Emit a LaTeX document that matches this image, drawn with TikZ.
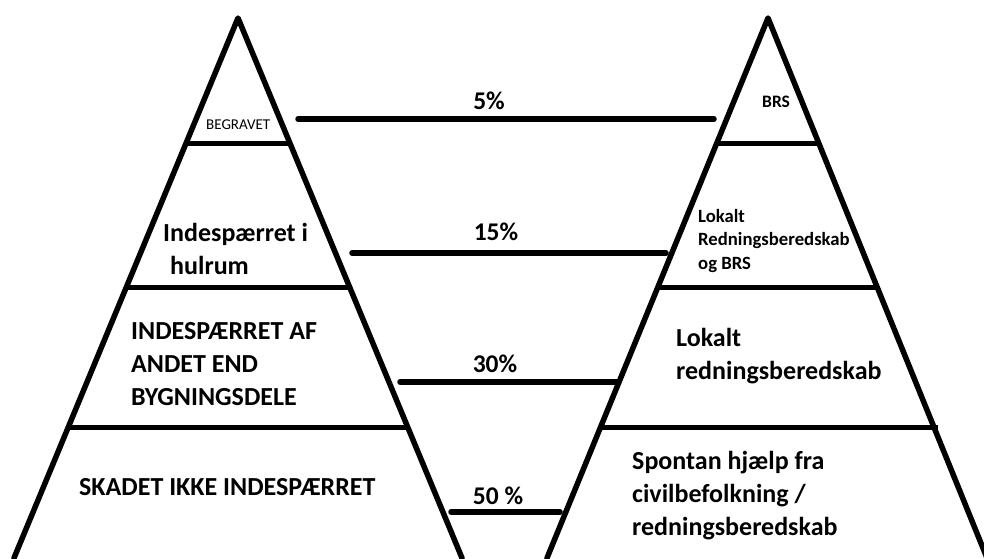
\documentclass[tikz,border=0pt]{standalone}
\usepackage{fontspec}
\setmainfont{Carlito}
\begin{document}
\begin{tikzpicture}[x=1pt,y=-1pt,
  edge/.style={line width=5.5pt,line join=round,line cap=round},
  bar/.style={line width=5pt},
  link/.style={line width=5.5pt,line cap=round},
  big/.style={inner sep=0pt,anchor=west,align=left,font=\bfseries\fontsize{26}{33}\selectfont},
  pct/.style={inner sep=0pt,font=\bfseries\fontsize{25.5}{28}\selectfont},
  small/.style={inner sep=0pt,anchor=west,align=left,font=\bfseries\fontsize{18.7}{23.5}\selectfont}]
\useasboundingbox (0,0) rectangle (984,558);
\fill[white] (0,0) rectangle (984,558);

% left pyramid
\coordinate (LA) at (238,18);
\coordinate (LL) at (14,558);
\coordinate (LR) at (462,558);
\draw[edge] (LL) -- (LA) -- (LR);
\draw[bar] (186,143) -- (290,143);
\draw[bar] (126,287) -- (350,287);
\draw[bar] (68,427) -- (408,427);

% right pyramid
\coordinate (RA) at (768,18);
\coordinate (RL) at (547,558);
\coordinate (RR) at (987,558);
\draw[edge] (RL) -- (RA) -- (RR);
\draw[bar] (717,143) -- (820,143);
\draw[bar] (660,287) -- (879,287);
\draw[bar] (601,427) -- (938,427);

% left labels
\node[inner sep=0pt,anchor=west,font=\fontsize{15}{18}\selectfont] (begravet) at (206,125) {BEGRAVET};
\node[big] (hulrum) at (163,249) {Indespærret i\\\hspace*{7pt}hulrum};
\node[big] (andet) at (131,364) {INDESPÆRRET AF\\ANDET END\\BYGNINGSDELE};
\node[big] (skadet) at (79,487) {SKADET IKKE INDESPÆRRET};

% right labels
\node[inner sep=0pt,anchor=west,font=\bfseries\fontsize{17.5}{20}\selectfont] (brs) at (762,102) {BRS};
\node[small] (lokbrs) at (698,241) {Lokalt\\Redningsberedskab\\og BRS};
\node[big] (lokalt) at (676,356) {Lokalt\\redningsberedskab};
\node[big] (spontan) at (632,496) {Spontan hjælp fra\\civilbefolkning /\\redningsberedskab};

% connectors with shares
\coordinate (c1a) at (298,119); \coordinate (c1b) at (714,119);
\coordinate (c2a) at (352,253); \coordinate (c2b) at (666,253);
\coordinate (c3a) at (400,382); \coordinate (c3b) at (617,382);
\coordinate (c4a) at (451,512); \coordinate (c4b) at (560,512);
\draw[link] (c1a) -- (c1b);
\draw[link] (c2a) -- (c2b);
\draw[link] (c3a) -- (c3b);
\draw[link] (c4a) -- (c4b);
\node[pct] (p1) at (489,101) {5\%};
\node[pct] (p2) at (496,232) {15\%};
\node[pct] (p3) at (495,364) {30\%};
\node[pct] (p4) at (498,496) {50 \%};
\end{tikzpicture}
\end{document}
